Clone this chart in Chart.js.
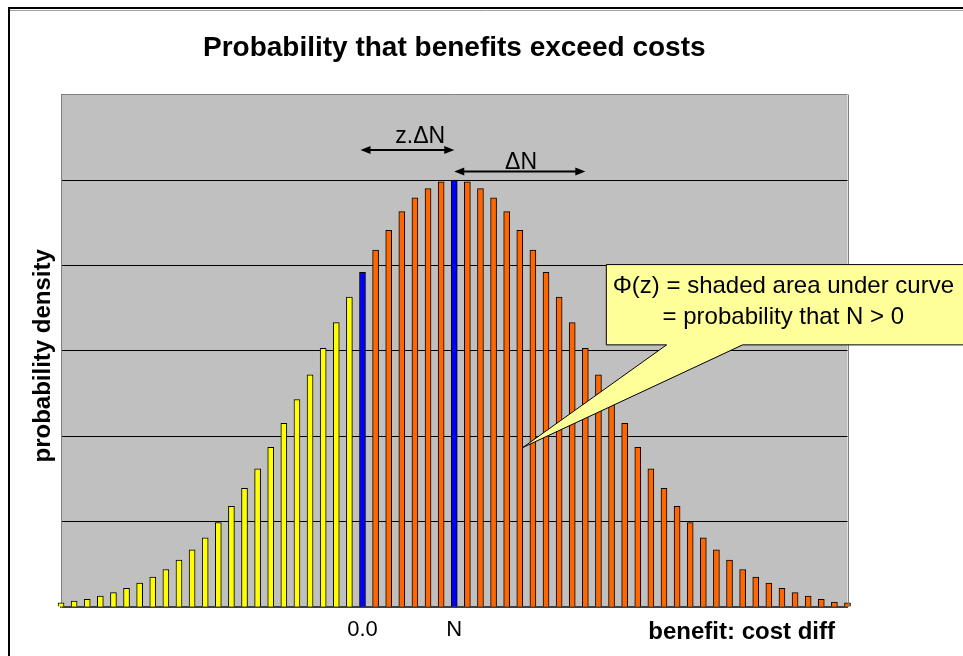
<!DOCTYPE html>
<html>
<head>
<meta charset="utf-8">
<title>Probability that benefits exceed costs</title>
<script src="https://cdn.jsdelivr.net/npm/chart.js@4/dist/chart.umd.min.js"></script>
<style>
  html, body { margin: 0; padding: 0; background: #fff; }
  #wrap { width: 963px; height: 656px; position: relative; }
</style>
</head>
<body>
<div id="wrap"><canvas id="benefitChart"></canvas></div>
<script>
// probability density per bin of the benefit-cost difference
const density = [
  0.05, 0.07, 0.09, 0.13, 0.17, 0.22, 0.28, 0.35, 0.44, 0.55,
  0.67, 0.81, 0.99, 1.18, 1.39, 1.62, 1.87, 2.15, 2.43, 2.72,
  3.03, 3.33, 3.63, 3.92, 4.18, 4.41, 4.63, 4.79, 4.90, 4.98,
  5.00, 4.98, 4.90, 4.79, 4.63, 4.41, 4.18, 3.92, 3.63, 3.33,
  3.03, 2.72, 2.43, 2.15, 1.87, 1.62, 1.39, 1.18, 0.99, 0.81,
  0.67, 0.55, 0.44, 0.35, 0.28, 0.22, 0.17, 0.13, 0.09, 0.06,
  0.05
];
const bins = density.map((_, i) => i);

// bins that carry a tick label
const zeroBin = 23;   // benefit - cost = 0
const meanBin = 30;   // expected value N
const sigmaBin = 40;  // N + one standard deviation
const tickText = { [zeroBin]: "0.0", [meanBin]: "N" };

const YELLOW = "#FFFF00";
const ORANGE = "#FF6600";
const BLUE = "#0000FF";

function barColor(i) {
  if (i === zeroBin || i === meanBin) return BLUE;
  return i < zeroBin ? YELLOW : ORANGE;
}

const FONT = '"Liberation Sans", Arial, sans-serif';
Chart.defaults.font.family = FONT;
Chart.defaults.color = "#000";

function arrow(ctx, x1, x2, y) {
  const head = 10, half = 4;
  ctx.save();
  ctx.strokeStyle = "#000";
  ctx.fillStyle = "#000";
  ctx.lineWidth = 2;
  ctx.beginPath();
  ctx.moveTo(x1 + 4, y);
  ctx.lineTo(x2 - 4, y);
  ctx.stroke();
  ctx.beginPath();
  ctx.moveTo(x1, y);
  ctx.lineTo(x1 + head, y - half);
  ctx.lineTo(x1 + head, y + half);
  ctx.closePath();
  ctx.fill();
  ctx.beginPath();
  ctx.moveTo(x2, y);
  ctx.lineTo(x2 - head, y - half);
  ctx.lineTo(x2 - head, y + half);
  ctx.closePath();
  ctx.fill();
  ctx.restore();
}

const decorations = {
  id: "decorations",
  beforeDraw(chart) {
    const { ctx, chartArea: a } = chart;
    ctx.save();
    ctx.fillStyle = "#fff";
    ctx.fillRect(0, 0, chart.width, chart.height);
    // outer frame of the chart object
    ctx.strokeStyle = "#000";
    ctx.lineWidth = 2;
    ctx.strokeRect(9, 8, chart.width + 20, chart.height + 20);
    ctx.strokeStyle = "#a0a0a0";
    ctx.lineWidth = 1;
    ctx.beginPath();
    ctx.moveTo(10, 10.5);
    ctx.lineTo(chart.width, 10.5);
    ctx.stroke();
    // plot area
    ctx.fillStyle = "#C0C0C0";
    ctx.fillRect(a.left, a.top, a.right - a.left, a.bottom - a.top);
    ctx.restore();
  },
  afterDraw(chart) {
    const { ctx, chartArea: a } = chart;
    const x = chart.scales.x, y = chart.scales.y;
    ctx.save();

    // right edge of the plot area
    ctx.strokeStyle = "#808080";
    ctx.lineWidth = 1;
    ctx.beginPath();
    ctx.moveTo(Math.round(a.right) + 0.5, a.top);
    ctx.lineTo(Math.round(a.right) + 0.5, a.bottom);
    ctx.stroke();

    // z.ΔN and ΔN spans
    ctx.font = "23px " + FONT;
    ctx.fillStyle = "#000";
    ctx.textAlign = "center";
    ctx.textBaseline = "alphabetic";
    arrow(ctx, x.getPixelForValue(zeroBin) - 2, x.getPixelForValue(meanBin), y.getPixelForValue(5.35));
    ctx.fillText("z.\u0394N", x.getPixelForValue(27.4), y.getPixelForValue(5.43));
    arrow(ctx, x.getPixelForValue(meanBin), x.getPixelForValue(sigmaBin), y.getPixelForValue(5.1));
    ctx.fillText("\u0394N", x.getPixelForValue(35.1), y.getPixelForValue(5.13));

    // callout pointing into the shaded area
    const boxL = x.getPixelForValue(41.6);
    const boxT = y.getPixelForValue(4.01);
    const boxB = y.getPixelForValue(3.07);
    const boxR = chart.width + 10;
    ctx.beginPath();
    ctx.moveTo(boxL, boxT);
    ctx.lineTo(boxR, boxT);
    ctx.lineTo(boxR, boxB);
    ctx.lineTo(x.getPixelForValue(52.0), boxB);
    ctx.lineTo(x.getPixelForValue(35.25), y.getPixelForValue(1.87));
    ctx.lineTo(x.getPixelForValue(46.2), boxB);
    ctx.lineTo(boxL, boxB);
    ctx.closePath();
    ctx.fillStyle = "#FFFF99";
    ctx.fill();
    ctx.strokeStyle = "#000";
    ctx.lineWidth = 1;
    ctx.stroke();
    ctx.fillStyle = "#000";
    ctx.font = "24px " + FONT;
    ctx.fillText("\u03A6(z) = shaded area under curve", boxL + 177, boxT + 28);
    ctx.fillText("= probability that N > 0", boxL + 177, boxT + 59);

    // axis captions
    ctx.font = "bold 24px " + FONT;
    ctx.textAlign = "right";
    ctx.fillText("benefit: cost diff", 835, 639);
    ctx.save();
    ctx.translate(43, (a.top + a.bottom) / 2 + 5);
    ctx.rotate(-Math.PI / 2);
    ctx.textAlign = "center";
    ctx.textBaseline = "middle";
    ctx.fillText("probability density", 0, 0);
    ctx.restore();

    ctx.restore();
  }
};

new Chart(document.getElementById("benefitChart"), {
  type: "bar",
  data: {
    labels: bins,
    datasets: [{
      data: density,
      backgroundColor: bins.map(barColor),
      borderColor: "#000",
      borderWidth: 1,
      barThickness: 6,
      clip: false
    }]
  },
  options: {
    responsive: true,
    maintainAspectRatio: false,
    animation: false,
    layout: { padding: { left: 61, right: 115.5, top: 0, bottom: 2.5 } },
    plugins: {
      legend: { display: false },
      tooltip: { enabled: false },
      title: {
        display: true,
        text: "Probability that benefits exceed costs",
        color: "#000",
        font: { size: 28, weight: "bold" },
        padding: { top: 31, bottom: 30 }
      }
    },
    scales: {
      x: {
        type: "category",
        offset: false,
        grid: { display: false, drawTicks: false },
        border: { display: true, color: "#404040", width: 2 },
        ticks: {
          autoSkip: false,
          maxRotation: 0,
          padding: 10,
          font: { size: 22 },
          color: "#000",
          callback: (value, index) => tickText[index] || ""
        }
      },
      y: {
        min: 0,
        max: 6,
        ticks: { display: false, stepSize: 1 },
        grid: {
          drawTicks: false,
          color: ctx => ctx.tick.value === 6 ? "#808080" : "#000",
          lineWidth: 1
        },
        border: { display: true, color: "#808080", width: 1 }
      }
    }
  },
  plugins: [decorations]
});
</script>
</body>
</html>
